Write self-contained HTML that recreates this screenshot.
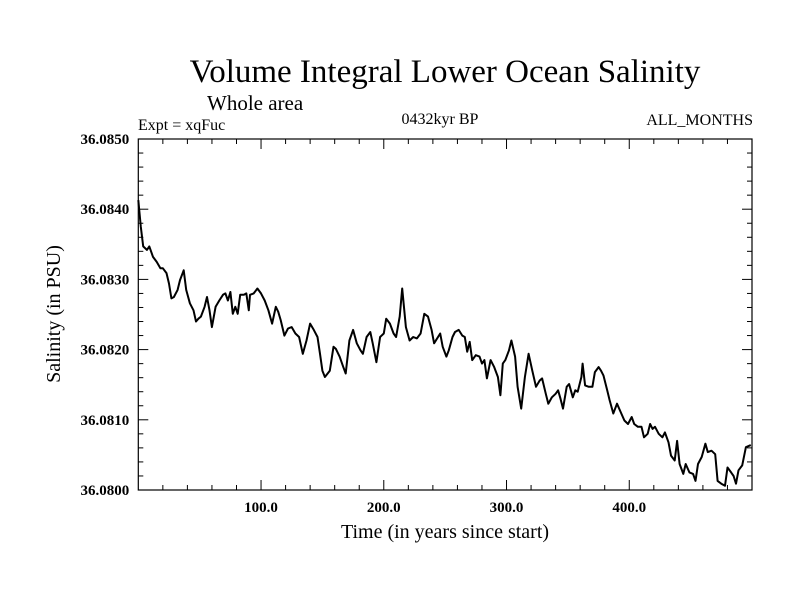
<!DOCTYPE html>
<html><head><meta charset="utf-8"><style>
body{margin:0;background:#fff}
svg{display:block;font-family:"Liberation Serif",serif}
</style></head><body>
<svg width="800" height="600" id="chart">
<text x="445" y="82" font-size="33" text-anchor="middle">Volume Integral Lower Ocean Salinity</text>
<text x="207" y="110" font-size="21">Whole area</text>
<text x="138" y="130" font-size="16">Expt = xqFuc</text>
<text x="440" y="124" font-size="16" text-anchor="middle">0432kyr BP</text>
<text x="753" y="125" font-size="16" text-anchor="end">ALL_MONTHS</text>
<text x="445" y="538" font-size="20" text-anchor="middle">Time (in years since start)</text>
<text transform="translate(60,314) rotate(-90)" font-size="20" text-anchor="middle">Salinity (in PSU)</text>
<g id="axes"></g>
<rect x="138.3" y="139" width="613.7" height="351" fill="none" stroke="#000" stroke-width="1.2"/>
</svg>
<script>
const years=[0,2,4,7,9,12,15,18,20,23,25,27,29,32,34,37,39,42,45,47,49,51,54,56,58,60,63,66,69,71,73,75,77,79,81,83,86,88,90,91,94,97,100,103,106,109,112,114,116,119,122,125,128,131,134,137,140,143,146,148,150,152,156,159,161,164,167,169,172,175,178,181,183,186,189,191,194,197,200,202,205,208,210,213,215,218,221,224,227,230,233,236,239,241,
246,248,251,253,256,258,261,264,266,268,270,272,275,278,280,282,284,287,290,293,295,297,299,302,304,307,309,312,315,318,321,324,327,329,332,334,337,340,342,344,346,349,351,354,356,358,361,362,364,367,370,372,375,377,379,382,384,387,390,393,396,399,402,404,407,410,412,415,417,419,421,424,427,429,432,434,437,439,441,444,446,449,452,454,456,459,462,464,467,470,472,475,478,480,483,485,487,489,492,495,499];
const salinity=[36.08413,36.08375,36.08347,36.08342,36.08347,36.08332,36.08325,36.08316,36.08316,36.08309,36.08294,36.08273,36.08275,36.08285,36.08299,36.08313,36.08285,36.08266,36.08256,36.08240,36.08244,36.08247,36.08261,36.08275,36.08256,36.08232,36.08261,36.08270,36.08278,36.08280,36.08270,36.08282,36.08251,36.08261,36.08251,36.08278,36.08278,36.08280,36.08256,36.08278,36.08280,36.08287,36.08280,36.08270,36.08256,36.08237,36.08261,36.08254,36.08242,36.08220,36.08230,36.08232,36.08223,36.08218,36.08194,36.08213,36.08237,36.08228,36.08218,36.08194,36.08170,36.08161,36.08170,36.08204,36.08201,36.08190,36.08175,36.08166,36.08213,36.08228,36.08209,36.08199,36.08194,36.08218,36.08225,36.08209,36.08182,36.08218,36.08223,36.08244,36.08237,36.08223,36.08218,36.08247,36.08287,36.08232,36.08213,36.08218,36.08216,36.08223,36.08251,36.08247,36.08228,36.08209,
36.08223,36.08204,36.08190,36.08199,36.08218,36.08225,36.08228,36.08220,36.08218,36.08197,36.08211,36.08185,36.08192,36.08190,36.08180,36.08185,36.08159,36.08185,36.08175,36.08161,36.08135,36.08180,36.08185,36.08199,36.08213,36.08190,36.08147,36.08116,36.08161,36.08194,36.08170,36.08147,36.08156,36.08159,36.08137,36.08123,36.08132,36.08137,36.08142,36.08130,36.08116,36.08147,36.08151,36.08132,36.08142,36.08140,36.08161,36.08180,36.08149,36.08147,36.08147,36.08168,36.08175,36.08170,36.08163,36.08142,36.08128,36.08109,36.08123,36.08111,36.08099,36.08094,36.08104,36.08094,36.08090,36.08090,36.08075,36.08080,36.08094,36.08087,36.08090,36.08080,36.08075,36.08082,36.08068,36.08049,36.08042,36.08070,36.08037,36.08023,36.08037,36.08025,36.08023,36.08013,36.08037,36.08047,36.08066,36.08054,36.08056,36.08051,36.08013,36.08009,36.08006,36.08032,36.08025,36.08020,36.08009,36.08028,36.08035,36.08061,36.08064];
const xTicks=[100,200,300,400];
const xTickLabels=["100.0","200.0","300.0","400.0"];
const yTicks=[36.080,36.081,36.082,36.083,36.084,36.085];
const yTickLabels=["36.0800","36.0810","36.0820","36.0830","36.0840","36.0850"];
const X0=138.3,X1=752,Y0=490,Y1=139,XMIN=0,XMAX=500,YMIN=36.080,YMAX=36.085;
function sx(t){return X0+(t-XMIN)/(XMAX-XMIN)*(X1-X0);}
function sy(v){return Y0-(v-YMIN)/(YMAX-YMIN)*(Y0-Y1);}
const NS="http://www.w3.org/2000/svg";
const g=document.getElementById('axes');
function mk(tag,attrs){const e=document.createElementNS(NS,tag);for(const k in attrs)e.setAttribute(k,attrs[k]);return e;}
for(let t=20;t<XMAX;t+=20){
  const big=t%100===0,len=big?10:5,x=sx(t);
  const a=mk('line',{x1:x,x2:x,y1:Y0,y2:Y0-len,stroke:'#000','stroke-width':1});
  
  
  g.appendChild(a);
  const b=mk('line',{x1:x,x2:x,y1:Y1,y2:Y1+len,stroke:'#000','stroke-width':1});
  
  
  g.appendChild(b);
}
for(let i=1;i<25;i++){
  const v=YMIN+i*0.0002,big=i%5===0,len=big?10:5,y=sy(v);
  const a=mk('line',{x1:X0,x2:X0+len,y1:y,y2:y,stroke:'#000','stroke-width':1});
  
  
  g.appendChild(a);
  const b=mk('line',{x1:X1,x2:X1-len,y1:y,y2:y,stroke:'#000','stroke-width':1});
  
  
  g.appendChild(b);
}
xTicks.forEach((t,i)=>{
  const tx=mk('text',{x:sx(t),y:Y0+22,'font-size':15,'font-weight':'bold','text-anchor':'middle'});
  tx.textContent=xTickLabels[i];
  
  
  g.appendChild(tx);
});
yTicks.forEach((v,i)=>{
  const tx=mk('text',{x:X0-9,y:sy(v)+5,'font-size':15,'font-weight':'bold','text-anchor':'end'});
  tx.textContent=yTickLabels[i];
  
  
  g.appendChild(tx);
});
const d=years.map((t,i)=>(i?'L':'M')+sx(t).toFixed(1)+','+sy(salinity[i]).toFixed(1)).join('');
const p=mk('path',{d:d,fill:'none',stroke:'#000','stroke-width':2,'stroke-linejoin':'round'});


g.appendChild(p);
</script>
</body></html>
